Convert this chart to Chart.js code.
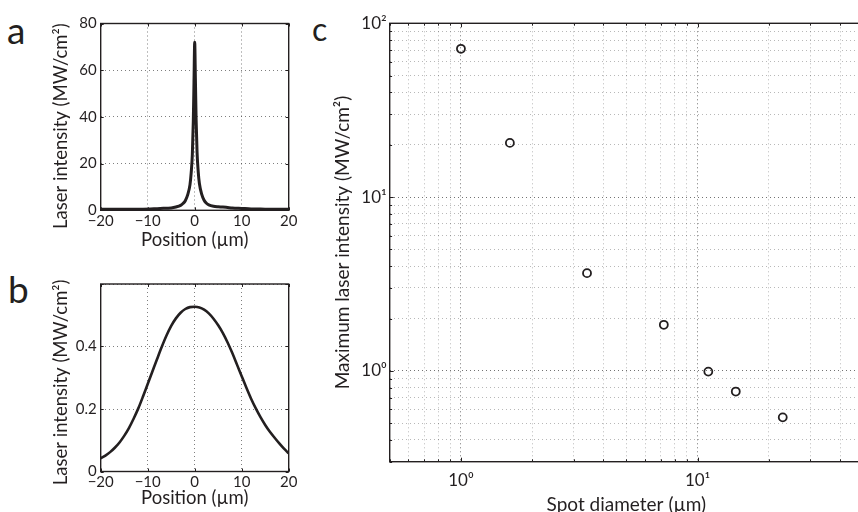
<!DOCTYPE html>
<html><head><meta charset="utf-8">
<script src="https://cdn.jsdelivr.net/npm/chart.js@4.4.0/dist/chart.umd.min.js"></script>
<style>
html,body{margin:0;padding:0;background:#fff;overflow:hidden;width:858px;height:512px;position:relative}
canvas{position:absolute}
.lbl{position:absolute;font-family:Lato,sans-serif;color:#231f20;line-height:1}
</style></head><body>
<div class="lbl" style="left:7px;top:11px;font-size:37px">a</div>
<div class="lbl" style="left:8px;top:270px;font-size:37px">b</div>
<div class="lbl" style="left:312px;top:13px;font-size:32px">c</div>
<canvas id="ca" width="300" height="250" style="left:0;top:0"></canvas>
<canvas id="cb" width="300" height="262" style="left:0;top:250px"></canvas>
<canvas id="cc" width="580" height="530" style="left:300px;top:0"></canvas>
<script>
// ---- Panel a: narrow beam profile ----
const posA = [-20,-17,-14,-11,-8,-6,-5,-4,-3,-2.5,-2,-1.5,-1,-0.75,-0.5,-0.3,-0.15,0,0.15,0.3,0.5,0.75,1,1.5,2,2.5,3,4,5,6,7,8,10,12,15,18,20];
const intA = [0.4,0.4,0.5,0.5,0.7,0.9,1.0,1.4,2.1,2.9,4.1,6.6,11,16,24,38,55,72,56,39,25,16.5,11.5,6.8,4.3,3.0,2.3,1.7,1.5,1.4,1.2,1.0,0.8,0.6,0.5,0.4,0.4];
const aXTicks = [-20,-10,0,10,20];
const aYTicks = [0,20,40,60,80];

// ---- Panel b: wide beam profile ----
const posB = [-20,-19,-18,-17,-16,-15,-14,-13,-12,-11,-10,-9,-8,-7,-6,-5,-4,-3,-2,-1,0,1,2,3,4,5,6,7,8,9,10,11,12,13,14,15,16,17,18,19,20];
const intB = [0.042,0.051,0.062,0.076,0.093,0.114,0.139,0.169,0.202,0.240,0.280,0.320,0.360,0.399,0.435,0.466,0.490,0.508,0.520,0.526,0.527,0.525,0.518,0.506,0.489,0.468,0.443,0.413,0.379,0.342,0.305,0.268,0.233,0.202,0.174,0.149,0.127,0.108,0.090,0.073,0.058];
const bXTicks = [-20,-10,0,10,20];
const bYTicks = [0,0.2,0.4,0.6];
const bYTickLabels = ['0','0.2','0.4',''];

// ---- Panel c: max intensity vs spot diameter ----
const spotDiameter = [1.0,1.61,3.41,7.2,11.1,14.5,22.9];
const maxIntensity = [71.3,20.5,3.65,1.84,0.99,0.76,0.54];
const cXTicks = [0.5,0.6,0.7,0.8,0.9,1,2,3,4,5,6,7,8,9,10,20,30,40,50];
const cYTicks = [0.3,0.4,0.5,0.6,0.7,0.8,0.9,1,2,3,4,5,6,7,8,9,10,20,30,40,50,60,70,80,90,100];
const cXTickLabels = {1:'10\u2070',10:'10\u00b9'};
const cYTickLabels = {1:'10\u2070',10:'10\u00b9',100:'10\u00b2'};

const INK = '#231f20';
Chart.defaults.font.family = 'Lato, sans-serif';
Chart.defaults.color = INK;

const minus = v => v < 0 ? '\u2212' + Math.abs(v) : String(v);
const isMajor = v => Math.abs(Math.log10(v) - Math.round(Math.log10(v))) < 1e-9;

const boxPlugin = {
  id: 'box',
  beforeDatasetsDraw(chart, args, opts) {
    const {ctx, chartArea: {left, top, right, bottom}, scales} = chart;
    ctx.save();
    ctx.strokeStyle = INK;
    ctx.lineWidth = 1;
    const tl = opts.len || 3;
    ctx.beginPath();
    scales.x.ticks.forEach(t => {
      const px = Math.round(scales.x.getPixelForValue(t.value)) + 0.5;
      const L = (opts.log && !isMajor(t.value)) ? tl * 0.6 : tl;
      ctx.moveTo(px, bottom); ctx.lineTo(px, bottom - L);
      ctx.moveTo(px, top); ctx.lineTo(px, top + L);
    });
    scales.y.ticks.forEach(t => {
      const py = Math.round(scales.y.getPixelForValue(t.value)) + 0.5;
      const L = (opts.log && !isMajor(t.value)) ? tl * 0.6 : tl;
      ctx.moveTo(left, py); ctx.lineTo(left + L, py);
      ctx.moveTo(right, py); ctx.lineTo(right - L, py);
    });
    ctx.stroke();
    ctx.lineWidth = 1.4;
    ctx.strokeRect(left, top, right - left, bottom - top);
    ctx.restore();
  }
};

function fixTicks(list) {
  return scale => { scale.ticks = list.map(v => ({value: v})); };
}

function profileChart(id, xs, ys, xTicks, yTicks, yLabelFn, ymax, pad, xH, xTitlePad, lw, yTitle) {
  return new Chart(document.getElementById(id), {
    type: 'scatter',
    data: { datasets: [{
      data: xs.map((x, i) => ({x: x, y: ys[i]})),
      showLine: true, pointRadius: 0, borderColor: INK, borderWidth: lw,
      cubicInterpolationMode: 'monotone', fill: false
    }]},
    options: {
      responsive: false, animation: false, devicePixelRatio: 1,
      layout: { padding: pad },
      plugins: { legend: {display: false}, tooltip: {enabled: false}, box: {len: 3} },
      scales: {
        x: {
          type: 'linear', min: -20, max: 20,
          afterBuildTicks: fixTicks(xTicks),
          afterFit: s => { s.height = xH; },
          grid: { color: 'rgba(0,0,0,0.5)', lineWidth: 1, drawTicks: false },
          border: { display: false, dash: [1, 3] },
          ticks: { autoSkip: false, maxRotation: 0, padding: 2, font: {size: 15}, callback: v => minus(v) },
          title: { display: true, text: 'Position (\u00b5m)', font: {size: 18.5}, padding: {top: 0, bottom: xTitlePad} }
        },
        y: {
          type: 'linear', min: 0, max: ymax,
          afterBuildTicks: fixTicks(yTicks),
          afterFit: s => { s.width = 100.7; },
          grid: { color: 'rgba(0,0,0,0.5)', lineWidth: 1, drawTicks: false },
          border: { display: false, dash: [1, 3] },
          ticks: { autoSkip: false, padding: 4, font: {size: 15}, callback: yLabelFn },
          title: { display: true, text: yTitle, font: {size: 18.5}, padding: {top: 50.4, bottom: 0} }
        }
      }
    },
    plugins: [boxPlugin]
  });
}

profileChart('ca', posA, intA, aXTicks, aYTicks, v => String(v), 80,
  {top: 23.5, right: 11.3, bottom: 0, left: 0}, 39.7, -1.2, 3,
  'Laser intensity (MW/cm\u00b2)\u2002\u2002');
profileChart('cb', posB, intB, bXTicks, bYTicks, (v, i) => bYTickLabels[i], 0.6,
  {top: 34, right: 11.3, bottom: 0, left: 0}, 40.5, 2.9, 2.6,
  'Laser intensity (MW/cm\u00b2)\u2002');

new Chart(document.getElementById('cc'), {
  type: 'scatter',
  data: { datasets: [{
    data: spotDiameter.map((d, i) => ({x: d, y: maxIntensity[i]})),
    pointStyle: 'circle', pointRadius: 4, pointBorderWidth: 1.8,
    pointBorderColor: INK, pointBackgroundColor: 'rgba(0,0,0,0)'
  }]},
  options: {
    responsive: false, animation: false, devicePixelRatio: 1,
    layout: { padding: {top: 23.3, right: 17, bottom: 0, left: 0} },
    plugins: { legend: {display: false}, tooltip: {enabled: false}, box: {len: 4, log: true} },
    scales: {
      x: {
        type: 'logarithmic', min: 0.5, max: 50,
        afterBuildTicks: fixTicks(cXTicks),
        afterFit: s => { s.height = 68.3; },
        grid: { color: c => isMajor(c.tick.value) ? 'rgba(0,0,0,0.55)' : 'rgba(0,0,0,0.28)', lineWidth: 1, drawTicks: false },
        border: { display: false, dash: [1, 3] },
        ticks: { autoSkip: false, maxRotation: 0, padding: 9, font: {size: 17}, callback: v => cXTickLabels[v] || '' },
        title: { display: true, text: 'Spot diameter (\u00b5m)', font: {size: 19}, padding: {top: 0, bottom: 13.6} }
      },
      y: {
        type: 'logarithmic', min: 0.3, max: 100,
        afterBuildTicks: fixTicks(cYTicks),
        afterFit: s => { s.width = 89.7; },
        grid: { color: c => isMajor(c.tick.value) ? 'rgba(0,0,0,0.55)' : 'rgba(0,0,0,0.28)', lineWidth: 1, drawTicks: false },
        border: { display: false, dash: [1, 3] },
        ticks: { autoSkip: false, padding: 3, font: {size: 17}, callback: v => cYTickLabels[v] || '' },
        title: { display: true, text: 'Maximum laser intensity (MW/cm\u00b2)', font: {size: 19}, padding: {top: 31.6, bottom: 0} }
      }
    }
  },
  plugins: [boxPlugin]
});
</script>
</body></html>
